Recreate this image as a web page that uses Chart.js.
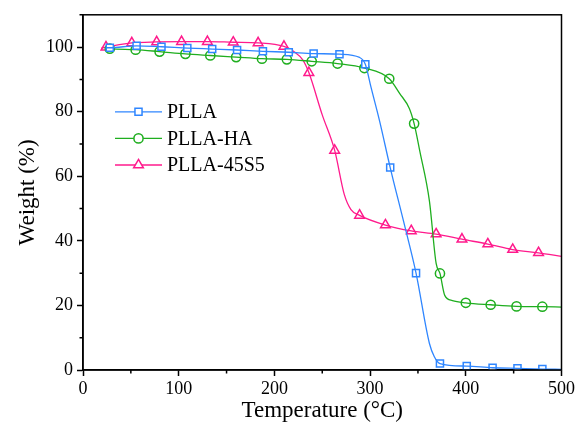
<!DOCTYPE html>
<html>
<head>
<meta charset="utf-8">
<script src="https://cdn.jsdelivr.net/npm/chart.js@4.4.1/dist/chart.umd.min.js"></script>
<style>
  body { margin: 0; background: #fff; }
</style>
</head>
<body>
<canvas id="tga" width="577" height="425"></canvas>
<script>
// marker points (temperature °C, weight %)
var pllaT  = [28, 56, 82, 109, 135, 161, 188, 215, 241, 268, 295, 321, 348, 373, 401, 428, 454, 480];
var pllaW  = [99.8, 100.4, 100.1, 99.7, 99.4, 99.1, 98.7, 98.4, 98.0, 97.8, 94.7, 62.7, 30.0, 2.0, 1.2, 0.7, 0.5, 0.3];
// extra points along the curve between markers (no symbol drawn)
var pllaCurveT = [24, 289, 301, 310, 335, 362, 367, 500];
var pllaCurveW = [99.8, 96.8, 87.5, 77.0, 46.0, 8.2, 4.2, 0.2];

var haT = [28, 55, 80, 107, 133, 160, 187, 213, 239, 266, 294, 320, 346, 373, 400, 426, 453, 480];
var haW = [99.5, 99.2, 98.6, 97.9, 97.4, 96.9, 96.4, 96.2, 95.6, 94.9, 93.5, 90.2, 76.3, 29.9, 20.8, 20.2, 19.7, 19.6];
var haCurveT = [24, 331, 341, 352, 362, 369, 378, 386, 500];
var haCurveW = [99.7, 85.6, 81.0, 67.7, 52.3, 33.0, 23.1, 21.5, 19.5];

var bgT = [24, 51, 77, 103, 130, 157, 183, 210, 236, 263, 289, 316, 343, 369, 396, 423, 449, 476];
var bgW = [100.0, 101.3, 101.6, 101.7, 101.7, 101.5, 101.3, 100.2, 92.1, 68.0, 47.9, 44.9, 43.1, 42.1, 40.5, 39.0, 37.3, 36.3];
var bgCurveT = [19, 220, 230, 250, 273, 280, 500];
var bgCurveW = [99.6, 98.7, 95.9, 79.0, 54.4, 49.7, 35.2];

var seriesNames = ['PLLA', 'PLLA-HA', 'PLLA-45S5'];
var xMinor = [50, 150, 250, 350, 450];
var yMinor = [10, 30, 50, 70, 90, 110];

var FONT = "'Liberation Serif', 'Times New Roman', serif";
var colors = ['#2f86ff', '#1fae1f', '#ff1a8c'];
var styles = ['rect', 'circle', 'triangle'];
var radii = [5, 4.6, 5.6];

function points(t, w) {
  return t.map(function (v, i) { return { x: v, y: w[i] }; });
}
function curve(mt, mw, et, ew) {
  return points(mt, mw).concat(points(et, ew)).sort(function (a, b) { return a.x - b.x; });
}

var lines = [
  curve(pllaT, pllaW, pllaCurveT, pllaCurveW),
  curve(haT, haW, haCurveT, haCurveW),
  curve(bgT, bgW, bgCurveT, bgCurveW)
];
var marks = [points(pllaT, pllaW), points(haT, haW), points(bgT, bgW)];

var datasets = [];
[0, 1, 2].forEach(function (i) {
  datasets.push({
    label: seriesNames[i],
    data: lines[i],
    showLine: true,
    cubicInterpolationMode: 'monotone',
    borderColor: colors[i],
    borderWidth: 1.3,
    pointRadius: 0,
    pointHoverRadius: 0
  });
  datasets.push({
    label: seriesNames[i] + ' marks',
    data: marks[i],
    showLine: false,
    pointStyle: styles[i],
    pointRadius: radii[i],
    pointBorderWidth: 1.5,
    pointBorderColor: colors[i],
    pointBackgroundColor: '#fff'
  });
});

function drawMarker(ctx, style, x, y, r) {
  ctx.beginPath();
  if (style === 'rect') {
    var s = r * Math.SQRT1_2;
    ctx.rect(x - s, y - s, 2 * s, 2 * s);
  } else if (style === 'circle') {
    ctx.arc(x, y, r, 0, Math.PI * 2);
  } else {
    for (var k = 0; k < 3; k++) {
      var a = k * 2 * Math.PI / 3;
      if (k === 0) ctx.moveTo(x + Math.sin(a) * r, y - Math.cos(a) * r);
      else ctx.lineTo(x + Math.sin(a) * r, y - Math.cos(a) * r);
    }
    ctx.closePath();
  }
  ctx.fill();
  ctx.stroke();
}

// box frame, minor ticks and the legend inside the plot
var framePlugin = {
  id: 'frame',
  afterDraw: function (chart) {
    var ctx = chart.ctx, a = chart.chartArea;
    var xs = chart.scales.x, ys = chart.scales.y;
    ctx.save();
    ctx.strokeStyle = '#000';
    ctx.lineWidth = 1.5;
    ctx.strokeRect(a.left, a.top, a.right - a.left, a.bottom - a.top);
    ctx.beginPath();
    xMinor.forEach(function (v) {
      var p = xs.getPixelForValue(v);
      ctx.moveTo(p, a.bottom);
      ctx.lineTo(p, a.bottom + 3.5);
    });
    yMinor.forEach(function (v) {
      var p = ys.getPixelForValue(v);
      ctx.moveTo(a.left, p);
      ctx.lineTo(a.left - 3.5, p);
    });
    ctx.stroke();

    var lx = a.left + 32, ly = a.top + 97;
    ctx.font = '20px ' + FONT;
    ctx.textBaseline = 'middle';
    seriesNames.forEach(function (name, i) {
      var y = ly + i * 26.6;
      ctx.strokeStyle = colors[i];
      ctx.lineWidth = 1.3;
      ctx.beginPath();
      ctx.moveTo(lx, y);
      ctx.lineTo(lx + 47, y);
      ctx.stroke();
      ctx.fillStyle = '#fff';
      ctx.lineWidth = 1.5;
      drawMarker(ctx, styles[i], lx + 23.5, y, radii[i]);
      ctx.fillStyle = '#000';
      ctx.fillText(name, lx + 52, y + 1);
    });
    ctx.restore();
  }
};

new Chart(document.getElementById('tga'), {
  type: 'scatter',
  data: { datasets: datasets },
  plugins: [framePlugin],
  options: {
    responsive: false,
    devicePixelRatio: 1,
    animation: false,
    layout: { padding: { top: 13, right: 15, left: 0, bottom: 0 } },
    plugins: { legend: { display: false }, tooltip: { enabled: false } },
    scales: {
      x: {
        type: 'linear',
        min: 0,
        max: 500,
        ticks: { stepSize: 100, color: '#000', font: { family: FONT, size: 18 }, padding: 2, maxRotation: 0 },
        grid: { drawOnChartArea: false, tickLength: 6, tickColor: '#000', tickWidth: 1.5 },
        border: { color: '#000', width: 1.5 },
        title: { display: true, text: 'Temperature (°C)', color: '#000', font: { family: FONT, size: 23 }, padding: { top: 0, bottom: 0 } },
        afterFit: function (s) { s.height = 55; }
      },
      y: {
        type: 'linear',
        min: 0,
        max: 110,
        ticks: { stepSize: 20, color: '#000', font: { family: FONT, size: 18 }, padding: 4 },
        afterBuildTicks: function (s) { s.ticks = s.ticks.filter(function (t) { return t.value <= 100; }); },
        grid: { drawOnChartArea: false, tickLength: 6, tickColor: '#000', tickWidth: 1.5 },
        border: { color: '#000', width: 1.5 },
        title: { display: true, text: 'Weight (%)', color: '#000', font: { family: FONT, size: 23 }, padding: { top: 14, bottom: 0 } },
        afterFit: function (s) { s.width = 83; }
      }
    }
  }
});
</script>
</body>
</html>
